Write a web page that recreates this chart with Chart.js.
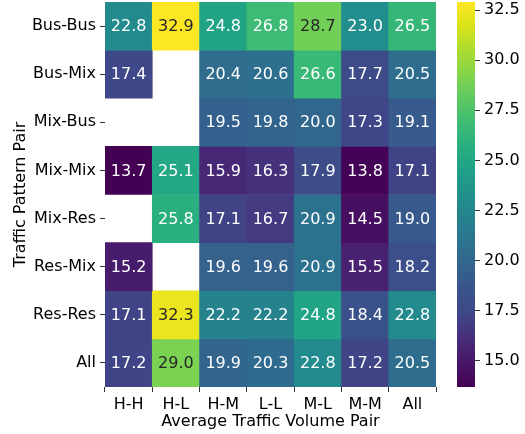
<!DOCTYPE html>
<html lang="en">
<head>
<meta charset="UTF-8">
<title>Traffic heatmap</title>
<script src="https://cdn.jsdelivr.net/npm/chart.js"></script>
<style>
    html, body { margin: 0; padding: 0; background: #fff; }
    .wrap { position: relative; width: 525px; height: 434px; }
    #heat { position: absolute; left: 0; top: 0; }
    #cbar { position: absolute; left: 440px; top: 0; }
</style>
</head>
<body>
<div class="wrap">
    <canvas id="heat" width="525" height="434"></canvas>
    <canvas id="cbar" width="85" height="434"></canvas>
</div>
<script>
// data
const columns = ['H-H', 'H-L', 'H-M', 'L-L', 'M-L', 'M-M', 'All'];
const rows = ['Bus-Bus', 'Bus-Mix', 'Mix-Bus', 'Mix-Mix', 'Mix-Res', 'Res-Mix', 'Res-Res', 'All'];
const busBus = [22.8, 32.9, 24.8, 26.8, 28.7, 23.0, 26.5];
const busMix = [17.4, null, 20.4, 20.6, 26.6, 17.7, 20.5];
const mixBus = [null, null, 19.5, 19.8, 20.0, 17.3, 19.1];
const mixMix = [13.7, 25.1, 15.9, 16.3, 17.9, 13.8, 17.1];
const mixRes = [null, 25.8, 17.1, 16.7, 20.9, 14.5, 19.0];
const resMix = [15.2, null, 19.6, 19.6, 20.9, 15.5, 18.2];
const resRes = [17.1, 32.3, 22.2, 22.2, 24.8, 18.4, 22.8];
const allRow = [17.2, 29.0, 19.9, 20.3, 22.8, 17.2, 20.5];
const colorbarTicks = [15.0, 17.5, 20.0, 22.5, 25.0, 27.5, 30.0, 32.5];

const grid = [busBus, busMix, mixBus, mixMix, mixRes, resMix, resRes, allRow];
const flat = grid.flat().filter(v => v !== null);
const vmin = Math.min(...flat);
const vmax = Math.max(...flat);

// viridis, sampled every 16 of 256 entries
const viridis = ['#440154', '#481668', '#472c7a', '#3f4788', '#3b528b', '#33638d',
                 '#2c728e', '#26828e', '#21918c', '#1fa088', '#28ae80', '#3fbc73',
                 '#5ec962', '#84d44b', '#addc30', '#d8e219', '#fde725'];
function hexRgb(h) {
    return [parseInt(h.slice(1, 3), 16), parseInt(h.slice(3, 5), 16), parseInt(h.slice(5, 7), 16)];
}
function viridisRgb(t) {
    t = Math.max(0, Math.min(1, t));
    const p = t * (viridis.length - 1);
    const i = Math.min(Math.floor(p), viridis.length - 2);
    const f = p - i;
    const a = hexRgb(viridis[i]), b = hexRgb(viridis[i + 1]);
    return a.map((c, k) => Math.round(c + (b[k] - c) * f));
}
function colorFor(v) {
    const c = viridisRgb((v - vmin) / (vmax - vmin));
    return `rgb(${c[0]},${c[1]},${c[2]})`;
}
// same rule seaborn uses for annotation colour
function textColorFor(v) {
    const c = viridisRgb((v - vmin) / (vmax - vmin)).map(x => {
        x /= 255;
        return x <= 0.03928 ? x / 12.92 : Math.pow((x + 0.055) / 1.055, 2.4);
    });
    const lum = 0.2126 * c[0] + 0.7152 * c[1] + 0.0722 * c[2];
    return lum > 0.408 ? '#262626' : '#ffffff';
}

const FONT = 'DejaVu Sans';
const FS = 16;

function noEdgePadding(scale) {
    scale.paddingTop = 0;
    scale.paddingBottom = 0;
    scale.paddingLeft = 0;
    scale.paddingRight = 0;
}

// annotate each cell with its value
const cellLabels = {
    id: 'cellLabels',
    afterDatasetsDraw(chart) {
        const ctx = chart.ctx;
        ctx.save();
        ctx.font = `${FS}px "${FONT}"`;
        ctx.textAlign = 'center';
        ctx.textBaseline = 'middle';
        chart.data.datasets.forEach((ds, i) => {
            const meta = chart.getDatasetMeta(i);
            grid[i].forEach((v, j) => {
                if (v === null) return;
                const el = meta.data[j];
                ctx.fillStyle = textColorFor(v);
                ctx.fillText(v.toFixed(1), el.x, (el.y + el.base) / 2 + 1);
            });
        });
        ctx.restore();
    }
};

new Chart(document.getElementById('heat'), {
    type: 'bar',
    data: {
        labels: columns,
        datasets: rows.map((name, i) => ({
            label: name,
            data: grid[i].map(v => v === null ? null : [i - 0.5, i + 0.5]),
            backgroundColor: grid[i].map(v => v === null ? 'rgba(0,0,0,0)' : colorFor(v)),
            borderWidth: 0,
            grouped: false,
            barPercentage: 1,
            categoryPercentage: 1
        }))
    },
    options: {
        responsive: false,
        animation: false,
        layout: { padding: { left: 0, top: 2, right: 89, bottom: 0 } },
        plugins: { legend: { display: false }, tooltip: { enabled: false } },
        scales: {
            x: {
                grid: { drawOnChartArea: false, drawTicks: true, tickLength: 5, tickColor: '#333' },
                border: { display: false },
                ticks: { color: '#000', font: { family: FONT, size: FS }, padding: 3, maxRotation: 0 },
                title: { display: true, text: 'Average Traffic Volume Pair', color: '#000',
                         font: { family: FONT, size: FS }, padding: { top: 0, bottom: 3 } },
                afterFit(scale) { noEdgePadding(scale); scale.height = 47; }
            },
            y: {
                type: 'linear',
                min: -0.5,
                max: 7.5,
                reverse: true,
                grid: { drawOnChartArea: false, drawTicks: true, tickLength: 5, tickColor: '#333' },
                border: { display: false },
                afterBuildTicks(scale) { scale.ticks = rows.map((_, i) => ({ value: i })); },
                ticks: { color: '#000', font: { family: FONT, size: FS }, padding: 4,
                         callback: v => rows[v] },
                title: { display: true, text: 'Traffic Pattern Pair', color: '#000',
                         font: { family: FONT, size: FS }, padding: { top: 11, bottom: 0 } },
                afterFit(scale) { noEdgePadding(scale); scale.width = 105; }
            }
        }
    },
    plugins: [cellLabels]
});

// colour bar
new Chart(document.getElementById('cbar'), {
    type: 'bar',
    data: {
        labels: [''],
        datasets: [{
            data: [[vmin, vmax]],
            borderWidth: 0,
            barPercentage: 1,
            categoryPercentage: 1,
            backgroundColor(ctx) {
                const area = ctx.chart.chartArea;
                if (!area) return '#21918c';
                const g = ctx.chart.ctx.createLinearGradient(0, area.bottom, 0, area.top);
                viridis.forEach((c, k) => g.addColorStop(k / (viridis.length - 1), c));
                return g;
            }
        }]
    },
    options: {
        responsive: false,
        animation: false,
        layout: { padding: { left: 17, top: 2, right: 0, bottom: 47 } },
        plugins: { legend: { display: false }, tooltip: { enabled: false } },
        scales: {
            x: { display: false },
            y: {
                position: 'right',
                min: vmin,
                max: vmax,
                grid: { drawOnChartArea: false, drawTicks: true, tickLength: 5, tickColor: '#333' },
                border: { display: false },
                afterBuildTicks(scale) { scale.ticks = colorbarTicks.map(v => ({ value: v })); },
                ticks: { color: '#000', font: { family: FONT, size: FS }, padding: 4,
                         callback: v => v.toFixed(1) },
                afterFit(scale) { noEdgePadding(scale); scale.width = 50; }
            }
        }
    }
});
</script>
</body>
</html>
